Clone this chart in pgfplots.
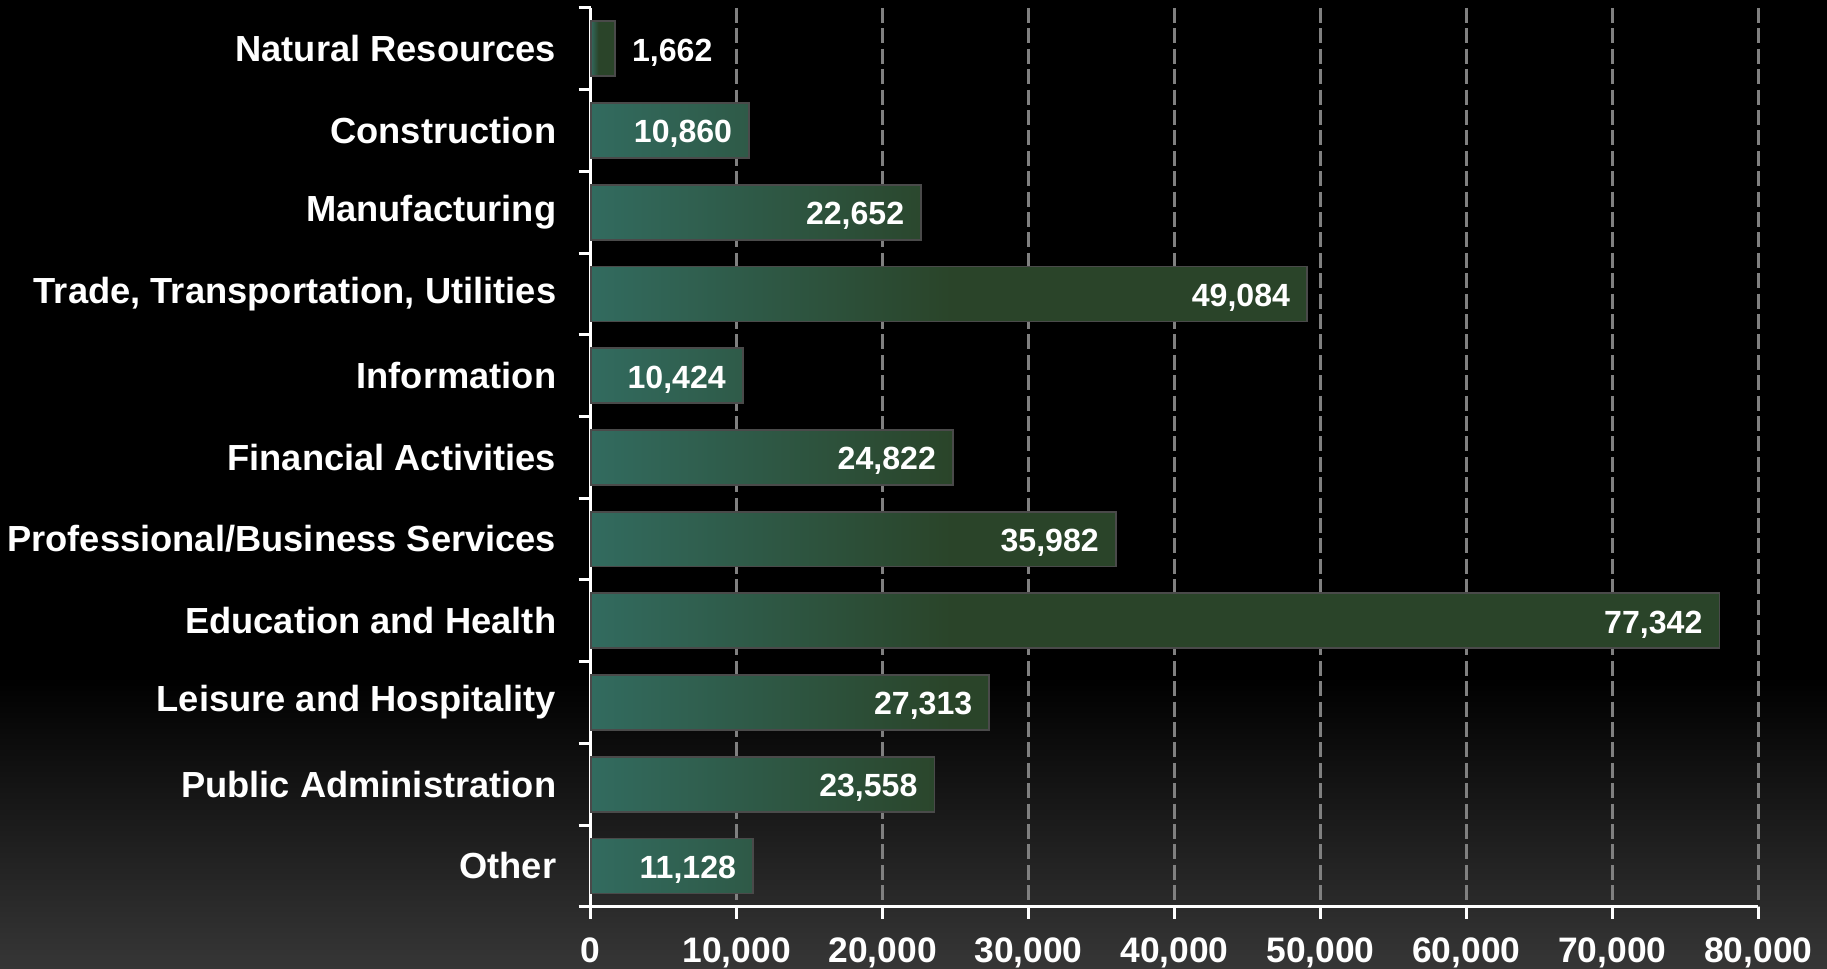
\documentclass[border=0pt]{standalone}
\usepackage{fontspec}
\setmainfont{Liberation Sans}
\usepackage{pgfplots}
\pgfplotsset{compat=1.18}

\definecolor{barteal}{HTML}{326B5F}
\definecolor{bargreen}{HTML}{2A4429}
\definecolor{barborder}{HTML}{4A4A4A}
\definecolor{gridgray}{HTML}{808080}
\definecolor{bgbot}{HTML}{363636}

% path bbox maps onto 25bp..75bp of the shading
\pgfdeclarehorizontalshading{barshade}{100bp}{color(0bp)=(barteal); color(25bp)=(barteal); color(41bp)=(bargreen); color(100bp)=(bargreen)}

\begin{document}
\begin{tikzpicture}
\fill[black] (0,0) rectangle (609pt,322.67pt);
\shade[top color=black, bottom color=bgbot] (0,0) rectangle (609pt,97pt);
\begin{axis}[
    at={(196.9pt,20.4pt)}, anchor=south west,
    width=389.2pt, height=299.6pt, scale only axis,
    xmin=0, xmax=80000,
    ymin=-0.5, ymax=10.5, y dir=reverse,
    axis x line*=bottom, axis y line*=left,
    axis line style={white, line width=1pt},
    scaled ticks=false,
    xtick={0,10000,...,80000},
    ytick={0,...,10},
    yticklabels={Natural Resources, Construction, Manufacturing,
        {Trade, Transportation, Utilities}, Information, Financial Activities,
        Professional/Business Services, Education and Health,
        Leisure and Hospitality, Public Administration, Other},
    minor ytick={-0.5,0.5,...,10.5},
    tick align=outside,
    major tick length=4pt, minor tick length=4pt,
    tick style={white, line width=1pt},
    major y tick style={draw=none},
    xmajorgrids,
    grid style={gridgray, line width=1pt, dash pattern=on 5pt off 1.8pt},
    /pgf/number format/1000 sep={,},
    /pgf/number format/assume math mode=true,
    xticklabel style={font=\fontsize{11.8}{14}\selectfont\bfseries, text=white, yshift=-2.7pt},
    yticklabel style={font=\fontsize{12.1}{14}\selectfont\bfseries, text=white, inner sep=0pt, xshift=-7.3pt},
    clip=false,
]
\addplot[xbar, bar width=18.3pt, bar shift=0pt, shade, shading=barshade,
    draw=barborder, line width=0.6pt, point meta=x,
    nodes near coords,
    nodes near coords style={anchor=east, xshift=-5.4pt, inner sep=0pt, text depth=0pt,
        yshift=-0.4pt, text=white, font=\fontsize{10.7}{12}\selectfont\bfseries}]
coordinates {
  (10860,1) (22652,2) (49084,3) (10424,4) (24822,5)
  (35982,6) (77342,7) (27313,8) (23558,9) (11128,10)
};
\addplot[xbar, bar width=18.3pt, bar shift=0pt, shade, shading=barshade,
    draw=barborder, line width=0.6pt, point meta=x,
    nodes near coords,
    nodes near coords style={anchor=west, xshift=5.4pt, inner sep=0pt, text depth=0pt,
        yshift=-0.4pt, text=white, font=\fontsize{10.7}{12}\selectfont\bfseries}]
coordinates {(1662,0)};
\end{axis}
\pgfresetboundingbox
\useasboundingbox (0,0) rectangle (609pt,322.67pt);
\end{tikzpicture}
\end{document}
